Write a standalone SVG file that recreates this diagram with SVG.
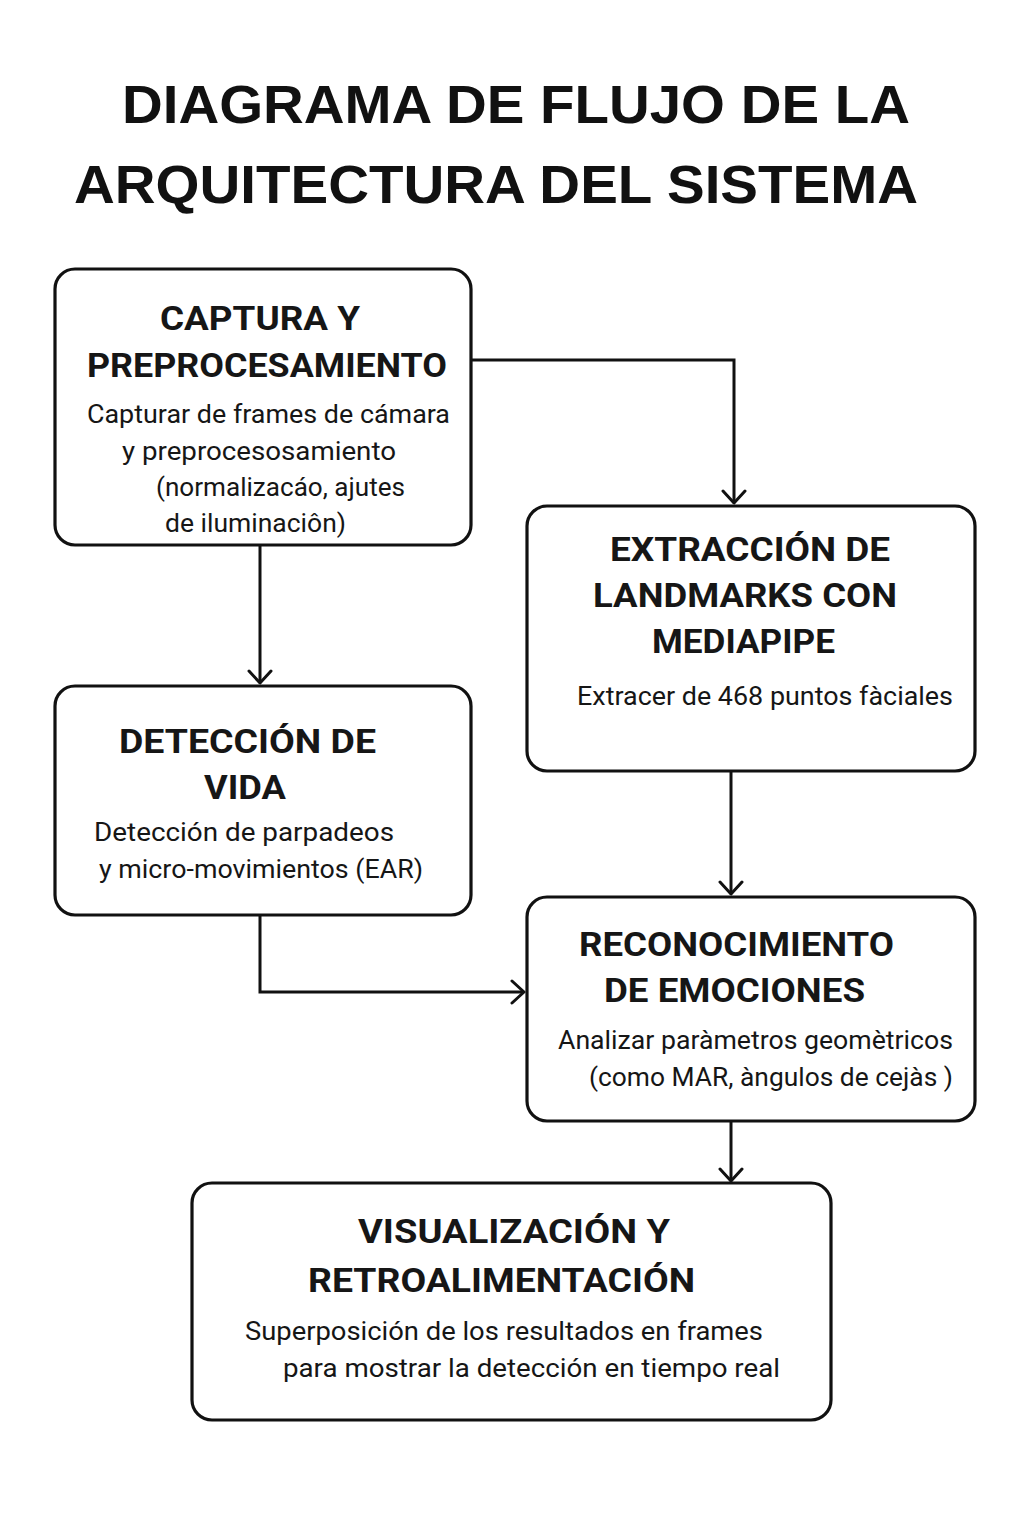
<svg xmlns="http://www.w3.org/2000/svg" width="1024" height="1536" viewBox="0 0 1024 1536">
<defs>
<style>
.box{fill:#fff;stroke:#111;stroke-width:3.2}
.h{font-family:Roboto,"Liberation Sans",Arial,sans-serif;font-weight:700;font-size:33px;fill:#161616}
.b{font-family:Roboto,"Liberation Sans",Arial,sans-serif;font-weight:400;font-size:26px;fill:#161616}
.t{font-family:"Liberation Sans",Arial,sans-serif;font-weight:700;font-size:54px;fill:#111}
.c{fill:none;stroke:#111;stroke-width:3}
</style>
<marker id="arr" viewBox="-14 -13 16 26" refX="0" refY="0" markerWidth="16" markerHeight="26" markerUnits="userSpaceOnUse" orient="auto">
<path d="M-12,-11 L0,0 L-12,11" fill="none" stroke="#111" stroke-width="3" stroke-linecap="round" stroke-linejoin="round"/>
</marker>
</defs>
<rect width="1024" height="1536" fill="#fff"/>
<g id="title">
<text class="t" x="122" y="123" textLength="788" lengthAdjust="spacingAndGlyphs">DIAGRAMA DE FLUJO DE LA</text>
<text class="t" x="74" y="203" textLength="844" lengthAdjust="spacingAndGlyphs">ARQUITECTURA DEL SISTEMA</text>
</g>
<g id="connectors">
<path class="c" d="M471,360 H734 V503" marker-end="url(#arr)"/>
<path class="c" d="M260,545 V683" marker-end="url(#arr)"/>
<path class="c" d="M260,915 V992 H524" marker-end="url(#arr)"/>
<path class="c" d="M731,771 V894" marker-end="url(#arr)"/>
<path class="c" d="M731,1121 V1181" marker-end="url(#arr)"/>
</g>
<g id="captura">
<rect class="box" x="55" y="269" width="416" height="276" rx="20"/>
<text class="h" x="160" y="330" textLength="200" lengthAdjust="spacingAndGlyphs">CAPTURA Y</text>
<text class="h" x="87" y="377" textLength="360" lengthAdjust="spacingAndGlyphs">PREPROCESAMIENTO</text>
<text class="b" x="87" y="423" textLength="363" lengthAdjust="spacingAndGlyphs">Capturar de frames de cámara</text>
<text class="b" x="122" y="460" textLength="274" lengthAdjust="spacingAndGlyphs">y preprocesosamiento</text>
<text class="b" x="156" y="496" textLength="249" lengthAdjust="spacingAndGlyphs">(normalizacáo, ajutes</text>
<text class="b" x="165" y="532" textLength="181" lengthAdjust="spacingAndGlyphs">de iluminaciôn)</text>
</g>
<g id="extraccion">
<rect class="box" x="527" y="506" width="448" height="265" rx="20"/>
<text class="h" x="610" y="561" textLength="280" lengthAdjust="spacingAndGlyphs">EXTRACCIÓN DE</text>
<text class="h" x="593" y="607" textLength="304" lengthAdjust="spacingAndGlyphs">LANDMARKS CON</text>
<text class="h" x="652" y="653" textLength="183" lengthAdjust="spacingAndGlyphs">MEDIAPIPE</text>
<text class="b" x="577" y="705" textLength="376" lengthAdjust="spacingAndGlyphs">Extracer de 468 puntos fàciales</text>
</g>
<g id="deteccion">
<rect class="box" x="55" y="686" width="416" height="229" rx="20"/>
<text class="h" x="119" y="753" textLength="257" lengthAdjust="spacingAndGlyphs">DETECCIÓN DE</text>
<text class="h" x="204" y="799" textLength="82" lengthAdjust="spacingAndGlyphs">VIDA</text>
<text class="b" x="94" y="841" textLength="300" lengthAdjust="spacingAndGlyphs">Detección de parpadeos</text>
<text class="b" x="99" y="878" textLength="324" lengthAdjust="spacingAndGlyphs">y micro-movimientos (EAR)</text>
</g>
<g id="reconocimiento">
<rect class="box" x="527" y="897" width="448" height="224" rx="20"/>
<text class="h" x="579" y="956" textLength="315" lengthAdjust="spacingAndGlyphs">RECONOCIMIENTO</text>
<text class="h" x="604" y="1002" textLength="261" lengthAdjust="spacingAndGlyphs">DE EMOCIONES</text>
<text class="b" x="558" y="1049" textLength="395" lengthAdjust="spacingAndGlyphs">Analizar paràmetros geomètricos</text>
<text class="b" x="589" y="1086" textLength="364" lengthAdjust="spacingAndGlyphs">(como MAR, àngulos de cejàs )</text>
</g>
<g id="visualizacion">
<rect class="box" x="192" y="1183" width="639" height="237" rx="20"/>
<text class="h" x="358" y="1243" textLength="312" lengthAdjust="spacingAndGlyphs">VISUALIZACIÓN Y</text>
<text class="h" x="308" y="1292" textLength="387" lengthAdjust="spacingAndGlyphs">RETROALIMENTACIÓN</text>
<text class="b" x="245" y="1340" textLength="518" lengthAdjust="spacingAndGlyphs">Superposición de los resultados en frames</text>
<text class="b" x="283" y="1377" textLength="497" lengthAdjust="spacingAndGlyphs">para mostrar la detección en tiempo real</text>
</g>
</svg>
